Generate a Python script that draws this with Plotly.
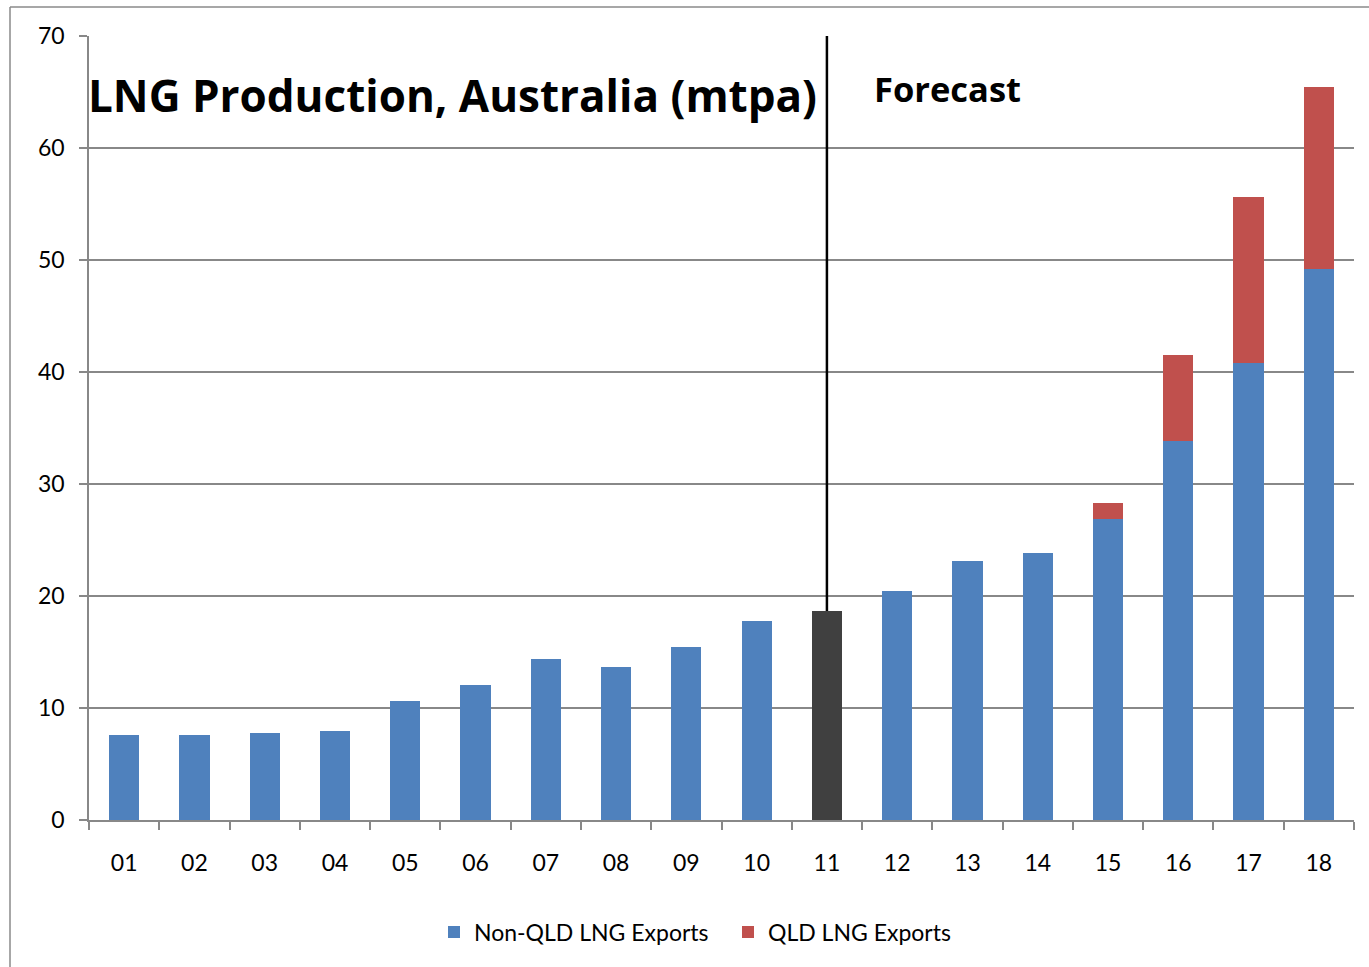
import plotly.graph_objects as go

years = ["01","02","03","04","05","06","07","08","09","10","11","12","13","14","15","16","17","18"]
non_qld = [7.6, 7.6, 7.8, 7.95, 10.6, 12.05, 14.4, 13.7, 15.45, 17.8, 18.65, 20.45, 23.1, 23.85, 26.9, 33.85, 40.8, 49.2]
qld = [0, 0, 0, 0, 0, 0, 0, 0, 0, 0, 0, 0, 0, 0, 1.4, 7.7, 14.8, 16.25]
current_year = "11"
y_ticks = [0, 10, 20, 30, 40, 50, 60, 70]
title_text = "LNG Production, Australia (mtpa)"
forecast_text = "Forecast"

BLUE = "#4F81BD"
RED = "#C0504D"
DARK = "#404040"
GRID = "#888888"
FONT = "Lato, 'Open Sans', sans-serif"
TFONT = "'Open Sans', sans-serif"

W, H = 1369, 967
L, R, T, B = 89, 15, 36, 147
pw, ph = W - L - R, H - T - B

colors = [DARK if y == current_year else BLUE for y in years]
cur_val = non_qld[years.index(current_year)] + qld[years.index(current_year)]

fig = go.Figure()
fig.add_trace(go.Bar(x=years, y=non_qld, name="Non-QLD LNG Exports",
                     marker=dict(color=colors, line=dict(width=0))))
fig.add_trace(go.Bar(x=years, y=qld, name="QLD LNG Exports",
                     marker=dict(color=RED, line=dict(width=0))))
fig.add_trace(go.Scatter(x=[current_year, current_year], y=[y_ticks[-1], cur_val],
                         mode="lines", line=dict(color="black", width=2.5),
                         showlegend=False, hoverinfo="skip"))

def px_x(p):
    return (p - L) / pw

def px_y(p):
    return 1 - (p - T) / ph

shapes = [
    dict(type="line", xref="paper", yref="paper", x0=px_x(10), x1=px_x(10), y0=px_y(7), y1=px_y(975),
         line=dict(color="#8a8a8a", width=1.5)),
    dict(type="line", xref="paper", yref="paper", x0=px_x(10), x1=px_x(1375), y0=px_y(7), y1=px_y(7),
         line=dict(color="#8a8a8a", width=1.5)),
]

fig.update_layout(
    width=W, height=H,
    margin=dict(l=L, r=R, t=T, b=B),
    barmode="stack",
    bargap=0.57,
    plot_bgcolor="white",
    paper_bgcolor="white",
    font=dict(family=FONT, size=23, color="black"),
    showlegend=True,
    legend=dict(orientation="h", x=px_x(434), xanchor="left", y=px_y(932), yanchor="middle",
                font=dict(size=23), itemwidth=30, traceorder="normal", entrywidth=249),
    xaxis=dict(type="category", showline=True, linecolor=GRID, linewidth=1.5,
               ticks="outside", tickson="boundaries", ticklen=8, tickcolor=GRID, tickwidth=1.5,
               showgrid=False, tickfont=dict(size=23), ticklabelstandoff=22),
    yaxis=dict(range=[0, 70], tickvals=y_ticks, showline=True, linecolor=GRID, linewidth=1.5,
               ticks="outside", ticklen=8, tickcolor=GRID, tickwidth=1.5,
               showgrid=True, gridcolor=GRID, gridwidth=1.5, zeroline=False,
               tickfont=dict(size=23), ticklabelstandoff=10),
    shapes=shapes,
    annotations=[
        dict(text="<b>" + title_text + "</b>", xref="paper", yref="paper",
             x=px_x(86), y=px_y(95), xanchor="left", yanchor="middle", showarrow=False,
             font=dict(size=44, family=TFONT, color="black")),
        dict(text="<b>" + forecast_text + "</b>", xref="paper", yref="paper",
             x=px_x(872), y=px_y(88), xanchor="left", yanchor="middle", showarrow=False,
             font=dict(size=34.5, family=TFONT, color="black")),
    ],
)

fig.write_html("out.html")
